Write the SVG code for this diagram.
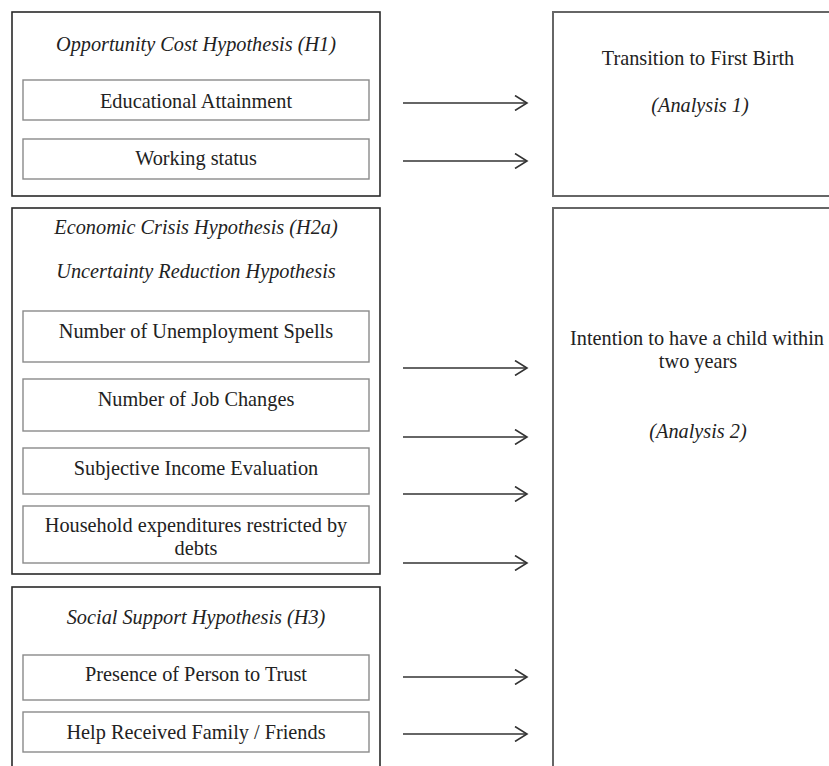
<svg xmlns="http://www.w3.org/2000/svg" width="829" height="766" viewBox="0 0 829 766">
<style>
.outer{fill:#fff;stroke:#2a2a2a;stroke-width:1.6}
.inner{fill:#fff;stroke:#8a8a8a;stroke-width:1.4}
.right{fill:#fff;stroke:#666;stroke-width:2}
text{font-family:"Liberation Serif","Times New Roman",serif;font-size:20.3px;fill:#222;text-anchor:middle}
.it{font-style:italic}
.arr{stroke:#333;stroke-width:1.6;fill:none}
</style>
<defs>
<marker id="ah" markerWidth="16" markerHeight="16" refX="13" refY="8" orient="auto" markerUnits="userSpaceOnUse">
<path d="M1,0.5 L13,8 L1,15.5" fill="none" stroke="#333" stroke-width="1.6"/>
</marker>
</defs>
<rect width="829" height="766" fill="#fff"/>
<g id="h1">
<rect class="outer" x="12" y="12" width="368" height="184"/>
<text class="it" x="196" y="51">Opportunity Cost Hypothesis (H1)</text>
</g>
<g id="edu">
<rect class="inner" x="23" y="80" width="346" height="40"/>
<text x="196" y="108">Educational Attainment</text>
</g>
<g id="work">
<rect class="inner" x="23" y="139" width="346" height="40"/>
<text x="196" y="165">Working status</text>
</g>
<g id="h2a">
<rect class="outer" x="12" y="208" width="368" height="366"/>
<text class="it" x="196" y="234">Economic Crisis Hypothesis (H2a)</text>
<text class="it" x="196" y="278">Uncertainty Reduction Hypothesis</text>
</g>
<g id="unemp">
<rect class="inner" x="23" y="311" width="346" height="51"/>
<text x="196" y="338">Number of Unemployment Spells</text>
</g>
<g id="job">
<rect class="inner" x="23" y="379" width="346" height="52"/>
<text x="196" y="406">Number of Job Changes</text>
</g>
<g id="income">
<rect class="inner" x="23" y="448" width="346" height="46"/>
<text x="196" y="475">Subjective Income Evaluation</text>
</g>
<g id="debts">
<rect class="inner" x="23" y="506" width="346" height="57"/>
<text x="196" y="532">Household expenditures restricted by</text>
<text x="196" y="555">debts</text>
</g>
<g id="h3">
<rect class="outer" x="12" y="587" width="368" height="200"/>
<text class="it" x="196" y="624">Social Support Hypothesis (H3)</text>
</g>
<g id="trust">
<rect class="inner" x="23" y="655" width="346" height="45"/>
<text x="196" y="681">Presence of Person to Trust</text>
</g>
<g id="help">
<rect class="inner" x="23" y="712" width="346" height="40"/>
<text x="196" y="739">Help Received Family / Friends</text>
</g>
<g id="analysis1">
<rect class="right" x="553" y="12" width="300" height="184"/>
<text x="698" y="65">Transition to First Birth</text>
<text class="it" x="700" y="112">(Analysis 1)</text>
</g>
<g id="analysis2">
<rect class="right" x="553" y="208" width="300" height="600"/>
<text x="697" y="345">Intention to have a child within</text>
<text x="698" y="368">two years</text>
<text class="it" x="698" y="438">(Analysis 2)</text>
</g>
<g id="connectors">
<line class="arr" x1="403" y1="103" x2="527" y2="103" marker-end="url(#ah)"/>
<line class="arr" x1="403" y1="161" x2="527" y2="161" marker-end="url(#ah)"/>
<line class="arr" x1="403" y1="368" x2="527" y2="368" marker-end="url(#ah)"/>
<line class="arr" x1="403" y1="437" x2="527" y2="437" marker-end="url(#ah)"/>
<line class="arr" x1="403" y1="494" x2="527" y2="494" marker-end="url(#ah)"/>
<line class="arr" x1="403" y1="563" x2="527" y2="563" marker-end="url(#ah)"/>
<line class="arr" x1="403" y1="677" x2="527" y2="677" marker-end="url(#ah)"/>
<line class="arr" x1="403" y1="734" x2="527" y2="734" marker-end="url(#ah)"/>
</g>
</svg>
